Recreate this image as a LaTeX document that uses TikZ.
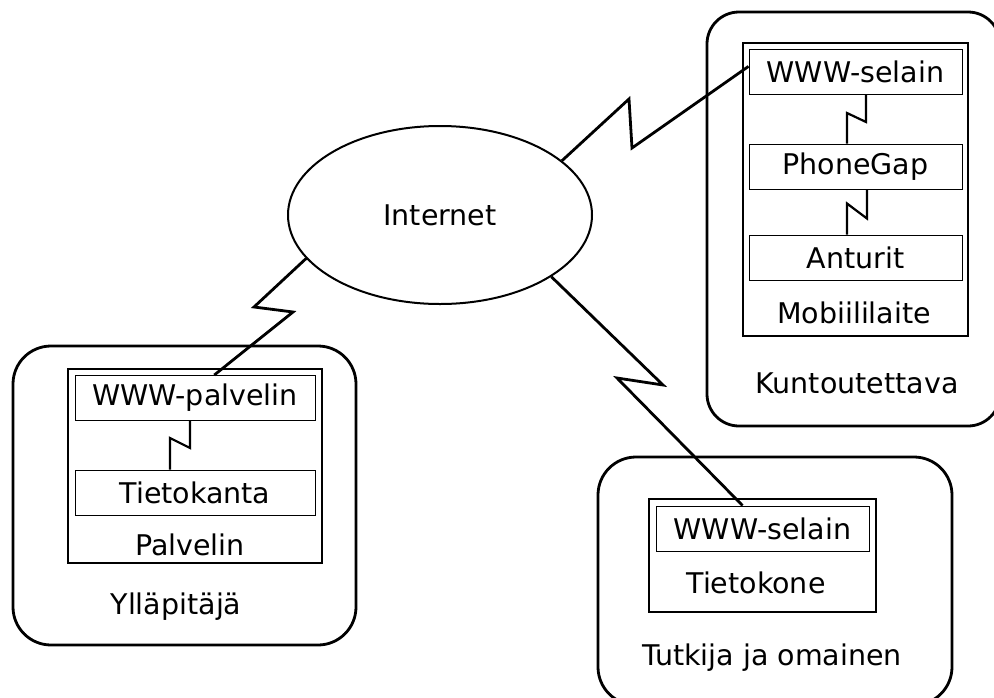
\documentclass[tikz,border=0pt]{standalone}
\usepackage{fontspec}
\setmainfont{DejaVu Sans}
\usetikzlibrary{shapes.geometric}
\tikzset{
  actor/.style={draw, line width=2.8pt, rounded corners=38pt, inner sep=0pt},
  device/.style={draw, line width=1.4pt, inner sep=0pt},
  part/.style={draw, line width=1pt, inner sep=0pt, minimum height=45pt},
  link/.style={line width=2.8pt, line join=miter}
}
\begin{document}
\begin{tikzpicture}[x=1pt, y=-1pt, font=\fontsize{28.5}{34}\selectfont]
      \useasboundingbox (0, 0) rectangle (994, 697);
      \clip (0, 0) rectangle (994, 697);
      % Ylläpitäjä
      \node [actor, minimum width=343pt, minimum height=299pt] (yllapitaja) at (184.5, 495.5) {};
      \node [device, minimum width=254pt, minimum height=194pt] (palvelin) at (195, 466) {};
      \node [part, minimum width=240pt] (wwwp) at (195, 398) {WWW-palvelin};
      \node [part, minimum width=240pt] (kanta) at (195, 492.5) {Tietokanta};
      \node (palvtxt) at (190, 545) {Palvelin};
      \node (ylltxt) at (176, 607) {Ylläpitäjä};
      % Kuntoutettava
      \node [actor, rounded corners=32pt, minimum width=293pt, minimum height=414pt] (kuntoutettava) at (853.5, 219) {};
      \node [device, minimum width=225pt, minimum height=293pt] (mobiili) at (855.5, 189.5) {};
      \node [part, minimum width=213pt] (selain1) at (855.5, 72) {WWW-selain};
      \node [part, minimum width=213pt] (phonegap) at (855.5, 166.5) {PhoneGap};
      \node [part, minimum width=213pt] (anturit) at (855.5, 257.5) {Anturit};
      \node (mobtxt) at (854, 313) {Mobiililaite};
      \node (kunttxt) at (857, 383) {Kuntoutettava};
      % Tutkija ja omainen
      \node [actor, minimum width=354pt, minimum height=248pt] (tutkija) at (775, 581) {};
      \node [device, minimum width=227pt, minimum height=113pt] (tietokone) at (762.5, 555.5) {};
      \node [part, minimum width=213pt] (selain2) at (762.5, 528.5) {WWW-selain};
      \node (konetxt) at (756, 583) {Tietokone};
      \node (tutktxt) at (772, 658) {Tutkija ja omainen};
      % Internet
      \node [draw, ellipse, line width=2pt, minimum width=304pt, minimum height=178pt,
        inner sep=0pt] (internet) at (440, 215) {Internet};
      % yhteydet
      \draw [link] (internet.198) -- (254, 307) -- (293, 312) -- (wwwp.50.7);
      \draw [link] (internet.24) -- (629, 99) -- (632, 148) -- (selain1.177);
      \draw [link] (internet.331) -- (663, 385) -- (617, 378) -- (selain2.131);
      \draw [link, line width=2.2pt] ([xshift=10.5pt]selain1.south) -- ++(0, 27) -- ++(-19, -9)
        -- ([xshift=-8.5pt]phonegap.north);
      \draw [link, line width=2.2pt] ([xshift=11.5pt]phonegap.south) -- ++(0, 29) -- ++(-20, -15)
        -- ([xshift=-8.5pt]anturit.north);
      \draw [link, line width=2.2pt] ([xshift=-5pt]wwwp.south) -- ++(0, 27) -- ++(-20, -10)
        -- ([xshift=-25pt]kanta.north);
\end{tikzpicture}
\end{document}
